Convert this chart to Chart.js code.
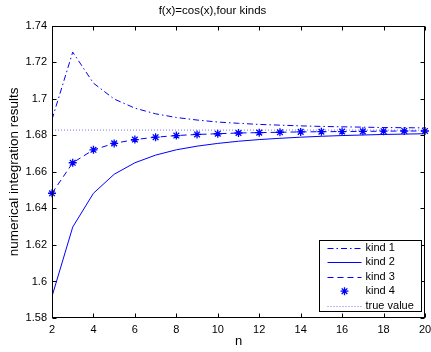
<!DOCTYPE html>
<html>
<head>
<meta charset="utf-8">
<script src="https://cdn.jsdelivr.net/npm/chart.js@4.4.1/dist/chart.umd.min.js"></script>
<style>
  html, body { margin: 0; padding: 0; background: #fff; }
  #wrap { width: 431px; height: 352px; }
</style>
</head>
<body>
<div id="wrap"><canvas id="c" width="431" height="352"></canvas></div>
<script>
// Number of quadrature nodes
const ns = [2, 3, 4, 5, 6, 7, 8, 9, 10, 11, 12, 13, 14, 15, 16, 17, 18, 19, 20];

// Quadrature results for the integral of cos(x) over [-1, 1]
const kind1 = [1.6887, 1.7256, 1.7086, 1.6999, 1.6949, 1.6918, 1.6898, 1.6884, 1.6873, 1.6866,
               1.6860, 1.6856, 1.6852, 1.6849, 1.6847, 1.6845, 1.6843, 1.6842, 1.6841];
const kind2 = [1.5918, 1.6298, 1.6483, 1.6587, 1.6650, 1.6692, 1.6721, 1.6741, 1.6756, 1.6768,
               1.6777, 1.6784, 1.6790, 1.6795, 1.6799, 1.6802, 1.6805, 1.6807, 1.6809];
const kind3 = [1.6483, 1.6650, 1.6721, 1.6756, 1.6777, 1.6790, 1.6799, 1.6805, 1.6809, 1.6813,
               1.6815, 1.6817, 1.6819, 1.6820, 1.6821, 1.6822, 1.6823, 1.6824, 1.6824];
const kind4 = [1.6483, 1.6650, 1.6721, 1.6756, 1.6777, 1.6790, 1.6799, 1.6805, 1.6809, 1.6813,
               1.6815, 1.6817, 1.6819, 1.6820, 1.6821, 1.6822, 1.6823, 1.6824, 1.6824];
const trueValue = 1.6829;

const seriesLabels = ['kind 1', 'kind 2', 'kind 3', 'kind 4', 'true value'];
const xTickValues = [2, 4, 6, 8, 10, 12, 14, 16, 18, 20];
const yRange = [1.58, 1.74];

const BLUE = 'rgb(0,0,255)';
const FONT = '"Liberation Sans", Arial, Helvetica, sans-serif';

Chart.defaults.font.family = FONT;
Chart.defaults.color = '#000';

const pts = ys => ns.map((n, i) => ({ x: n, y: ys[i] }));

// Axes box with inward tick marks on all four sides
const axesFrame = {
  id: 'axesFrame',
  afterDraw(chart) {
    const { ctx, chartArea: a, scales: { x, y } } = chart;
    const L = Math.round(a.left) + 0.5, R = Math.round(a.right) - 0.5;
    const T = Math.round(a.top) + 0.5, B = Math.round(a.bottom) - 0.5;
    ctx.save();
    ctx.strokeStyle = '#000';
    ctx.lineWidth = 1;
    ctx.beginPath();
    x.ticks.forEach(t => {
      const px = Math.round(x.getPixelForValue(t.value)) + 0.5;
      ctx.moveTo(px, B); ctx.lineTo(px, B - 4);
      ctx.moveTo(px, T); ctx.lineTo(px, T + 4);
    });
    y.ticks.forEach(t => {
      const py = Math.round(y.getPixelForValue(t.value)) + 0.5;
      ctx.moveTo(L, py); ctx.lineTo(L + 4, py);
      ctx.moveTo(R, py); ctx.lineTo(R - 4, py);
    });
    ctx.stroke();
    ctx.strokeRect(L, T, R - L, B - T);
    ctx.restore();
  }
};

// Boxed legend in the lower right corner of the plot
const boxedLegend = {
  id: 'boxedLegend',
  afterDraw(chart) {
    const { ctx, chartArea: a } = chart;
    const w = 102, h = 71;
    const x0 = Math.round(a.right - 4 - w) + 0.5;
    const y0 = Math.round(a.bottom - 7 - h) + 0.5;
    ctx.save();
    ctx.fillStyle = '#fff';
    ctx.fillRect(x0, y0, w, h);
    ctx.strokeStyle = '#000';
    ctx.lineWidth = 1;
    ctx.strokeRect(x0, y0, w, h);
    ctx.font = '11px ' + FONT;
    ctx.textBaseline = 'middle';
    ctx.textAlign = 'left';
    chart.data.datasets.forEach((ds, i) => {
      const cy = y0 + 7.5 + i * 14.4;
      const sx0 = x0 + 8, sx1 = x0 + 42;
      ctx.save();
      if (ds.showLine === false) {
        const cx = (sx0 + sx1) / 2, r = ds.pointRadius;
        ctx.strokeStyle = ds.pointBorderColor;
        ctx.lineWidth = ds.pointBorderWidth;
        ctx.beginPath();
        ctx.moveTo(cx - r, cy); ctx.lineTo(cx + r, cy);
        ctx.moveTo(cx, cy - r); ctx.lineTo(cx, cy + r);
        const d = r * Math.SQRT1_2;
        ctx.moveTo(cx - d, cy - d); ctx.lineTo(cx + d, cy + d);
        ctx.moveTo(cx - d, cy + d); ctx.lineTo(cx + d, cy - d);
        ctx.stroke();
      } else {
        ctx.strokeStyle = ds.borderColor;
        ctx.lineWidth = ds.borderWidth;
        ctx.setLineDash(ds.borderDash || []);
        ctx.beginPath();
        ctx.moveTo(sx0, Math.round(cy) + 0.5);
        ctx.lineTo(sx1, Math.round(cy) + 0.5);
        ctx.stroke();
      }
      ctx.restore();
      ctx.fillStyle = '#000';
      ctx.fillText(ds.label, x0 + 46, cy);
    });
    ctx.restore();
  }
};

new Chart(document.getElementById('c'), {
  type: 'line',
  data: {
    datasets: [
      { label: seriesLabels[0], data: pts(kind1), borderColor: BLUE, borderWidth: 1,
        borderDash: [6, 3, 1.5, 3], pointRadius: 0, fill: false },
      { label: seriesLabels[1], data: pts(kind2), borderColor: BLUE, borderWidth: 1,
        pointRadius: 0, fill: false },
      { label: seriesLabels[2], data: pts(kind3), borderColor: BLUE, borderWidth: 1,
        borderDash: [6, 4], pointRadius: 0, fill: false },
      { label: seriesLabels[3], data: pts(kind4), showLine: false, pointStyle: 'star',
        pointRadius: 4, pointBorderColor: BLUE, pointBackgroundColor: BLUE,
        pointBorderWidth: 1.3, borderColor: BLUE, clip: false },
      { label: seriesLabels[4],
        data: [{ x: ns[0], y: trueValue }, { x: ns[ns.length - 1], y: trueValue }],
        borderColor: 'rgba(60,60,255,0.7)', borderWidth: 1, borderDash: [1, 2],
        pointRadius: 0, fill: false }
    ]
  },
  options: {
    responsive: false,
    animation: false,
    devicePixelRatio: 1,
    layout: { padding: { left: 0, right: 6, top: 0, bottom: 0 } },
    plugins: {
      legend: { display: false },
      tooltip: { enabled: false },
      title: {
        display: true,
        text: 'f(x)=cos(x),four kinds',
        color: '#000',
        font: { size: 11.5, weight: 'normal', family: FONT },
        padding: { top: 4, bottom: 8 }
      }
    },
    scales: {
      x: {
        type: 'linear',
        min: ns[0],
        max: ns[ns.length - 1],
        afterBuildTicks: s => { s.ticks = xTickValues.map(v => ({ value: v })); },
        ticks: { color: '#000', font: { size: 11 }, padding: 5, maxRotation: 0, autoSkip: false },
        grid: { display: false, drawTicks: false },
        border: { display: false },
        title: { display: true, text: 'n', color: '#000', font: { size: 13 }, padding: { top: 0, bottom: 3 } },
        afterFit: s => { s.height = 34; s.paddingLeft = 0; s.paddingRight = 0; }
      },
      y: {
        type: 'linear',
        min: yRange[0],
        max: yRange[1],
        ticks: {
          stepSize: 0.02, color: '#000', font: { size: 11 }, padding: 5,
          callback: v => String(parseFloat(v.toFixed(2)))
        },
        grid: { display: false, drawTicks: false },
        border: { display: false },
        title: { display: true, text: 'numerical integration results', color: '#000',
                 font: { size: 13.5 }, padding: { top: 6, bottom: 0 } },
        afterFit: s => { s.width = 52; s.paddingTop = 0; s.paddingBottom = 0; }
      }
    }
  },
  plugins: [axesFrame, boxedLegend]
});
</script>
</body>
</html>
